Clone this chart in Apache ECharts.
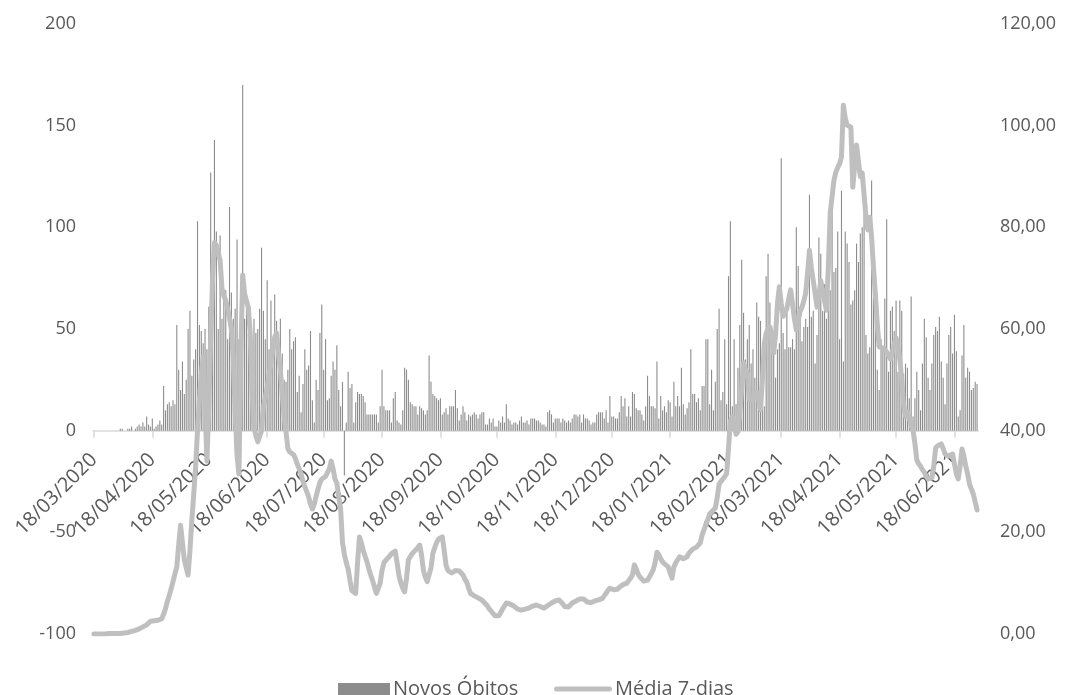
<!DOCTYPE html>
<html>
<head>
<meta charset="utf-8">
<script src="https://cdn.jsdelivr.net/npm/echarts@6/dist/echarts.min.js"></script>
<style>
html,body{margin:0;padding:0;background:#fff;}
#chart{width:1070px;height:695px;}
</style>
</head>
<body>
<div id="chart"></div>
<script>
// Category axis: consecutive days starting at 18/03/2020
const START_DATE = [2020, 3, 18];
const DAY_COUNT = 470;

// Left axis ticks
const leftTicks = { min: -100, max: 200, interval: 50 };
// Right axis ticks
const rightTicks = { min: 0, max: 120, interval: 20 };

const seriesNames = ['Novos Óbitos', 'Média 7-dias'];

// Novos Óbitos (daily), left axis
const novosObitos = [
0,0,0,0,0,0,0,0,0,0,
0,0,0,0,1,1,0,0,1,1,
2,0,1,2,3,2,4,2,7,3,
2,6,1,2,3,5,3,22,10,13,
14,12,15,13,52,30,20,34,18,25,
50,59,27,35,40,103,52,49,43,50,
40,61,127,75,143,98,50,96,55,68,
69,45,110,68,55,60,94,45,60,170,
55,64,48,52,42,55,48,50,60,90,
59,45,74,40,64,35,67,54,45,55,
38,25,24,30,50,40,44,46,19,27,
9,23,40,30,32,49,15,4,25,20,
48,62,30,45,15,16,27,34,30,42,
20,12,24,-22,4,29,21,23,4,14,
19,18,18,17,14,8,8,8,8,8,
8,4,12,30,12,10,10,10,4,16,
19,5,4,3,10,31,30,25,14,13,
12,12,8,12,11,10,8,10,37,24,
18,17,16,15,16,8,9,11,8,12,
12,12,20,11,5,8,12,9,5,8,
7,8,9,8,6,8,9,9,3,3,
6,4,6,2,2,5,4,7,4,13,
6,5,3,4,4,3,5,7,4,4,
5,3,6,6,6,5,5,4,3,3,
2,9,10,8,4,6,6,6,4,6,
5,4,5,4,6,8,8,7,8,4,
8,6,6,5,3,4,4,8,9,9,
9,6,10,4,17,7,7,6,6,9,
17,12,16,7,12,7,19,18,11,10,
10,8,5,12,27,17,12,12,11,34,
6,17,10,12,9,15,14,7,24,12,
17,12,31,13,8,11,14,40,18,18,
14,16,10,22,22,45,45,13,30,10,
24,50,60,15,19,45,13,76,103,12,
45,13,31,52,84,58,35,45,52,33,
40,26,63,56,54,40,12,76,87,63,
50,38,26,40,43,134,48,40,59,41,
41,45,40,100,81,59,44,51,55,51,
116,56,59,33,47,95,87,59,72,55,
60,69,115,78,80,98,45,118,34,98,
92,83,62,64,69,92,83,97,100,117,
47,38,41,123,65,59,30,20,45,40,
65,104,29,59,61,49,64,29,64,59,
28,33,31,16,66,7,16,29,20,10,
33,55,46,26,20,33,47,51,49,56,
34,26,13,33,47,51,38,57,39,7,
10,37,52,26,31,29,20,21,24,23
];

// Média 7-dias, right axis
const media7 = [
0,0,0,0,0,0,0,0,0.1,0.1,
0.1,0.1,0.1,0.1,0.1,0.1,0.2,0.2,0.3,0.4,
0.5,0.6,0.7,0.9,1.0,1.2,1.4,1.5,1.8,2.0,
2.5,2.7,2.6,2.8,2.7,2.8,3.0,3.9,5.0,6.4,
7.6,8.9,10.3,11.8,13.2,17.5,21.4,18.0,14.6,13.0,
11.6,16.5,22.4,27.5,33.0,40.0,46.0,51.0,54.5,45.0,
34.0,45.0,58.0,70.0,77.0,76.5,75.0,73.5,68.0,66.5,
65.6,64.0,62.0,60.0,54.0,44.0,35.0,31.5,55.0,70.6,
67.0,65.5,64.3,59.2,47.4,40.7,39.0,37.8,37.6,40.0,
44.7,46.5,48.5,51.0,53.5,56.0,58.4,59.2,55.0,52.0,
47.0,43.0,39.8,36.5,35.8,35.5,35.3,34.5,33.4,32.5,
31.5,30.0,29.0,28.0,27.0,25.5,24.6,25.5,27.1,28.5,
29.8,30.5,30.8,31.0,31.1,32.5,34.0,32.5,30.5,29.7,
27.0,24.6,18.0,15.7,14.0,12.8,10.5,8.5,8.2,8.0,
14.0,19.1,18.0,16.5,15.3,14.2,12.8,11.6,10.5,9.2,
8.0,7.7,10.0,12.5,14.0,14.5,14.9,15.3,15.8,16.1,
16.3,14.0,11.5,10.0,9.0,8.3,11.0,14.6,15.2,15.8,
16.2,16.6,17.0,17.5,15.5,12.5,11.2,10.3,10.0,13.0,
15.9,17.0,18.0,18.7,18.9,19.1,16.5,13.5,12.5,12.3,
12.0,12.2,12.5,12.6,12.4,12.2,11.6,10.8,10.2,9.0,
8.0,7.7,7.5,7.3,7.1,6.9,6.7,6.3,5.9,5.5,
4.9,4.5,4.0,3.6,3.3,3.6,4.2,4.9,5.5,6.1,
6.0,5.9,5.7,5.5,5.2,4.9,4.7,4.7,4.8,4.9,
5.0,5.1,5.3,5.5,5.6,5.7,5.6,5.4,5.2,5.1,
5.3,5.6,5.9,6.1,6.3,6.5,6.6,6.7,6.4,5.9,
5.4,5.1,5.3,5.7,6.1,6.3,6.5,6.7,6.9,7.1,
6.9,6.6,6.3,6.1,6.2,6.4,6.5,6.6,6.7,6.7,
7.0,7.5,8.0,8.6,9.0,8.9,8.7,8.5,8.8,9.2,
9.5,9.7,9.9,10.0,10.5,11.0,11.6,13.6,12.8,11.8,
11.2,10.8,10.4,10.2,10.6,11.2,11.9,12.6,14.0,16.1,
15.6,14.8,14.2,13.8,13.5,13.2,12.0,11.0,13.2,14.0,
14.6,15.2,15.0,14.8,14.6,15.2,15.9,16.3,16.7,16.9,
17.1,17.5,17.9,19.5,20.5,21.5,22.5,23.6,24.0,24.4,
24.8,26.8,29.5,30.0,30.5,31.0,31.5,36.6,41.9,42.7,
41.0,39.3,39.8,40.1,48.0,53.3,52.0,51.3,46.2,46.0,
46.2,47.0,47.6,46.0,44.1,50.0,57.0,59.2,60.0,60.4,
58.5,55.3,59.0,65.0,68.3,65.0,62.5,62.3,64.0,66.0,
67.7,65.0,62.0,59.8,61.5,63.5,64.3,65.5,67.1,71.0,
75.5,72.0,69.5,67.0,64.3,66.5,69.5,67.5,65.5,63.7,
72.0,82.8,86.0,89.3,90.8,91.8,92.5,93.8,104.0,101.5,
100.1,100.0,99.7,87.9,92.0,96.2,93.0,90.0,90.7,86.5,
82.0,79.5,82.0,78.0,72.0,66.9,61.0,56.5,56.3,56.3,
56.3,55.5,54.8,54.1,55.5,57.0,58.3,56.5,54.0,50.0,
45.0,42.7,43.7,42.5,41.0,40.1,37.5,34.2,33.5,33.0,
32.3,31.8,31.0,30.5,30.6,30.7,33.0,36.6,37.0,37.2,
37.4,36.5,35.4,35.2,35.0,35.2,35.4,33.5,31.5,30.5,
33.0,36.4,35.0,33.0,31.5,29.5,28.5,27.5,26.0,24.4
];

// Build category labels dd/mm/yyyy
function pad(n){ return (n < 10 ? '0' : '') + n; }
const categories = [];
{
  const d0 = new Date(Date.UTC(START_DATE[0], START_DATE[1] - 1, START_DATE[2]));
  for (let i = 0; i < DAY_COUNT; i++) {
    const d = new Date(d0.getTime() + i * 86400000);
    categories.push(pad(d.getUTCDate()) + '/' + pad(d.getUTCMonth() + 1) + '/' + d.getUTCFullYear());
  }
}

const FONT = '"Open Sans", "Liberation Sans", sans-serif';
const TXT = '#595959';
const isLabelDay = (idx, val) => val.slice(0, 2) === '18';

const GRID = { left: 93, right: 92, top: 24, bottom: 61 };
const plotH = 695 - GRID.top - GRID.bottom;
// distance from grid bottom to the zero line of the left axis
const zeroOffset = -plotH * (0 - leftTicks.min) / (leftTicks.max - leftTicks.min);

const PILL = 'path://M2.5,0 L55.5,0 A2.5,2.5 0 0 1 55.5,5 L2.5,5 A2.5,2.5 0 0 1 2.5,0 Z';

const chart = echarts.init(document.getElementById('chart'), null, { renderer: 'canvas' });
chart.setOption({
  animation: false,
  backgroundColor: '#ffffff',
  textStyle: { fontFamily: FONT, color: TXT },
  grid: { left: GRID.left, right: GRID.right, top: GRID.top, bottom: GRID.bottom, containLabel: false, outerBoundsMode: 'none' },
  legend: [
    {
      data: [{ name: seriesNames[0], icon: 'rect' }],
      left: 338, top: 679, padding: 0,
      itemWidth: 52, itemHeight: 12, itemGap: 6,
      textStyle: { fontFamily: FONT, fontSize: 20, color: TXT, padding: [0, 0, 0, -2] }
    },
    {
      data: [{ name: seriesNames[1], icon: PILL, itemStyle: { color: '#bfbfbf' } }],
      left: 554, top: 679, padding: 0,
      itemWidth: 58, itemHeight: 5, itemGap: 6,
      textStyle: { fontFamily: FONT, fontSize: 20, color: TXT, padding: [0, 0, 0, -2] }
    }
  ],
  xAxis: {
    type: 'category',
    data: categories,
    boundaryGap: true,
    position: 'bottom',
    offset: zeroOffset,
    axisLine: { show: true, onZero: false, lineStyle: { color: '#d9d9d9', width: 1.5 } },
    axisTick: { show: true, interval: isLabelDay, alignWithLabel: true, length: 7, lineStyle: { color: '#d9d9d9', width: 1.5 } },
    axisLabel: {
      interval: isLabelDay, rotate: 45, margin: 26, hideOverlap: false,
      fontFamily: FONT, fontSize: 20, color: TXT
    },
    splitLine: { show: false }
  },
  yAxis: [
    {
      type: 'value', min: leftTicks.min, max: leftTicks.max, interval: leftTicks.interval,
      axisLine: { show: false }, axisTick: { show: false }, splitLine: { show: false },
      axisLabel: { margin: 17, fontFamily: FONT, fontSize: 18, color: TXT, formatter: v => String(v) }
    },
    {
      type: 'value', min: rightTicks.min, max: rightTicks.max, interval: rightTicks.interval,
      axisLine: { show: false }, axisTick: { show: false }, splitLine: { show: false },
      axisLabel: { margin: 22, fontFamily: FONT, fontSize: 18, color: TXT, formatter: v => v.toFixed(2).replace('.', ',') }
    }
  ],
  series: [
    {
      name: seriesNames[0],
      type: 'bar',
      yAxisIndex: 0,
      data: novosObitos,
      barWidth: 1.1,
      itemStyle: { color: '#8c8c8c' },
      z: 2
    },
    {
      name: seriesNames[1],
      type: 'line',
      yAxisIndex: 1,
      data: media7,
      showSymbol: false,
      symbol: 'none',
      lineStyle: { color: '#bfbfbf', width: 5, cap: 'round', join: 'round' },
      itemStyle: { color: '#bfbfbf' },
      z: 3
    }
  ]
});
</script>
</body>
</html>
